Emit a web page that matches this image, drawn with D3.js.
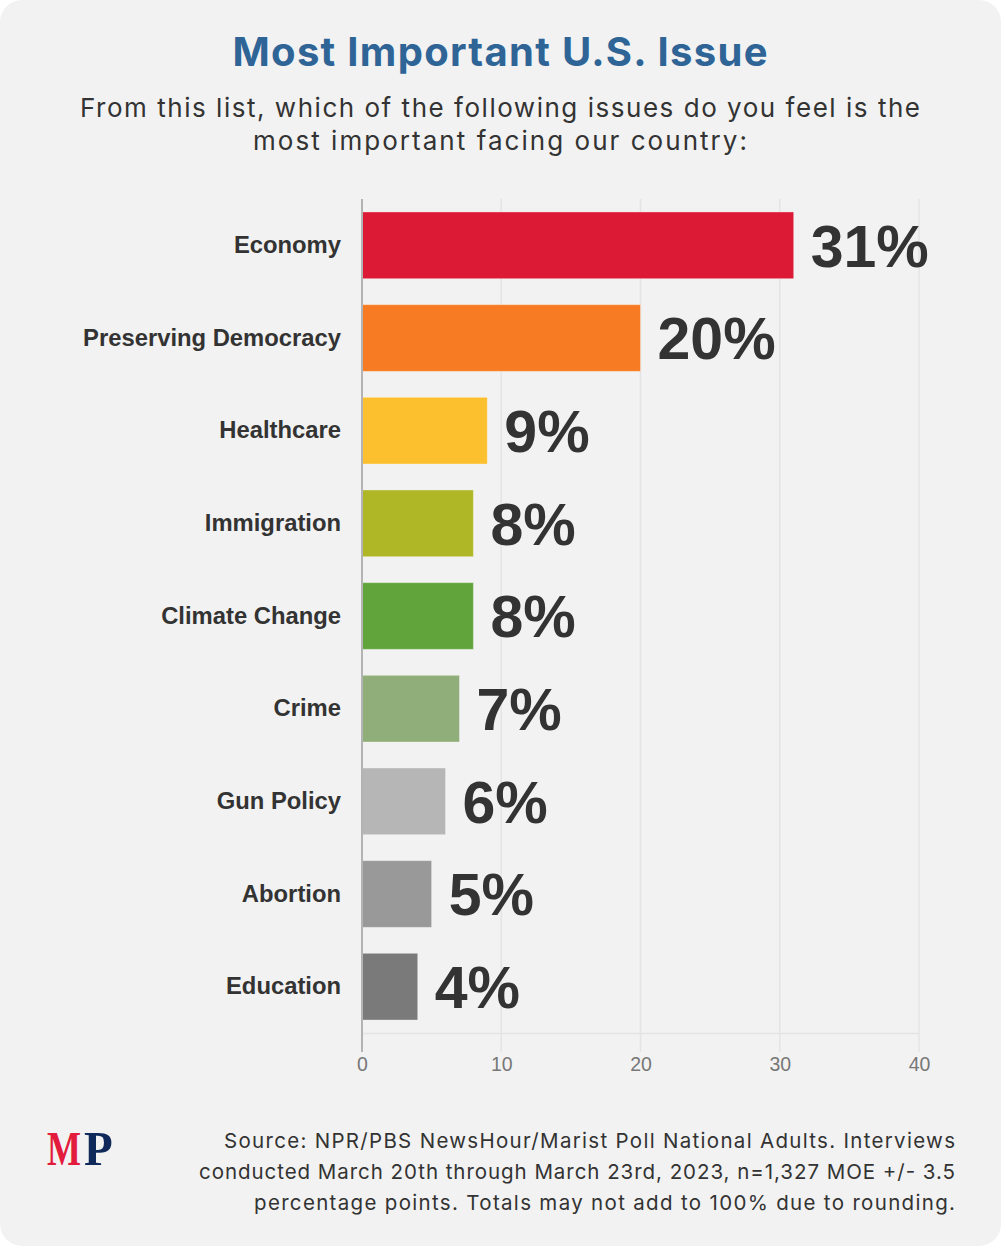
<!DOCTYPE html>
<html>
<head>
<meta charset="utf-8">
<script src="https://cdn.jsdelivr.net/npm/d3@7"></script>
<style>
  html, body { margin: 0; padding: 0; background: #ffffff; }
  svg { display: block; }
</style>
</head>
<body>
<svg id="chart" width="1006" height="1248"></svg>
<script>
const categories = ["Economy", "Preserving Democracy", "Healthcare", "Immigration", "Climate Change", "Crime", "Gun Policy", "Abortion", "Education"];
const values = [31, 20, 9, 8, 8, 7, 6, 5, 4];
const barColors = ["#dc1a35", "#f77b22", "#fcc02e", "#afb726", "#61a43c", "#90ae7a", "#b6b6b6", "#999999", "#7a7a7a"];
const xTicks = [0, 10, 20, 30, 40];
const titleText = "Most Important U.S. Issue";
const subtitleLines = ["From this list, which of the following issues do you feel is the", "most important facing our country:"];
const sourceLines = [
  "Source: NPR/PBS NewsHour/Marist Poll National Adults. Interviews",
  "conducted March 20th through March 23rd, 2023, n=1,327 MOE +/- 3.5",
  "percentage points. Totals may not add to 100% due to rounding."
];

const svg = d3.select("#chart");

// card background
svg.append("rect").attr("x", 0).attr("y", 0).attr("width", 1001).attr("height", 1246)
  .attr("rx", 22).attr("fill", "#f2f2f2");

// title
svg.append("text").attr("x", 500).attr("y", 66).attr("text-anchor", "middle")
  .attr("font-family", "Inter, 'Open Sans', sans-serif").attr("font-weight", 700)
  .attr("font-size", 40).attr("fill", "#2f6496")
  .attr("textLength", 535).attr("lengthAdjust", "spacing").text(titleText);

const subWidths = [840, 494];
svg.append("g").selectAll("text").data(subtitleLines).join("text")
  .attr("x", 500).attr("y", (d, i) => 117 + i * 33).attr("text-anchor", "middle")
  .attr("font-family", "Inter, 'Open Sans', sans-serif").attr("font-weight", 400)
  .attr("font-size", 26).attr("fill", "#333333")
  .attr("textLength", (d, i) => subWidths[i]).attr("lengthAdjust", "spacing").text(d => d);

const x = d3.scaleLinear().domain([0, 40]).range([362, 919]);
const y = d3.scaleBand().domain(categories).range([199, 1033]).paddingInner(0.28).paddingOuter(0.14);

// gridlines
const grid = svg.append("g");
grid.selectAll("line").data(xTicks.filter(t => t > 0)).join("line")
  .attr("x1", d => x(d)).attr("x2", d => x(d)).attr("y1", 199).attr("y2", 1052)
  .attr("stroke", "#e4e4e4").attr("stroke-width", 1.5);

// x axis baseline
svg.append("line").attr("x1", x(0)).attr("x2", x(40)).attr("y1", 1033.5).attr("y2", 1033.5)
  .attr("stroke", "#e4e4e4").attr("stroke-width", 1.5);

// x axis labels via d3 axis
const xAxis = svg.append("g").attr("transform", "translate(0,1052)")
  .call(d3.axisBottom(x).tickValues(xTicks).tickSize(0).tickPadding(5.5).tickFormat(d3.format("d")));
xAxis.select(".domain").remove();
xAxis.selectAll("text").attr("font-family", "'Liberation Sans', Arial, sans-serif")
  .attr("font-size", 19.5).attr("fill", "#777777");

// bars
svg.append("g").selectAll("rect").data(values).join("rect")
  .attr("x", x(0)).attr("y", (d, i) => y(categories[i]))
  .attr("width", d => x(d) - x(0)).attr("height", y.bandwidth())
  .attr("fill", (d, i) => barColors[i])
  .attr("stroke", "rgba(255,255,255,0.35)").attr("stroke-width", 1);

// y axis line
svg.append("line").attr("x1", x(0)).attr("x2", x(0)).attr("y1", 199).attr("y2", 1052)
  .attr("stroke", "#b3b3b3").attr("stroke-width", 2);

// category labels
const yAxis = svg.append("g").attr("transform", `translate(${x(0)},0)`)
  .call(d3.axisLeft(y).tickSize(0).tickPadding(21));
yAxis.select(".domain").remove();
yAxis.selectAll("text").attr("font-family", "'Liberation Sans', Arial, sans-serif")
  .attr("font-weight", 700).attr("font-size", 23.8).attr("fill", "#333333");

// value labels
svg.append("g").selectAll("text").data(values).join("text")
  .attr("x", d => x(d) + 17).attr("y", (d, i) => y(categories[i]) + y.bandwidth() / 2)
  .attr("dy", "0.36em")
  .attr("font-family", "'Liberation Sans', Arial, sans-serif").attr("font-weight", 700)
  .attr("font-size", 59).attr("fill", "#333333").text(d => d + "%");

// logo
svg.append("text").attr("transform", "translate(47,1165) scale(1,1.35)")
  .attr("font-family", "'Liberation Serif', 'DejaVu Serif', serif").attr("font-weight", 700)
  .attr("font-size", 36).attr("fill", "#e31b3c").text("M");
svg.append("text").attr("transform", "translate(84,1165) scale(1,1.05)")
  .attr("font-family", "'Liberation Serif', 'DejaVu Serif', serif").attr("font-weight", 700)
  .attr("font-size", 47).attr("fill", "#0f2a5a").text("P");

// source
const srcWidths = [731, 756, 701];
svg.append("g").selectAll("text").data(sourceLines).join("text")
  .attr("x", 955).attr("y", (d, i) => 1148 + i * 31).attr("text-anchor", "end")
  .attr("font-family", "Inter, 'Open Sans', sans-serif").attr("font-size", 20.5)
  .attr("fill", "#333333")
  .attr("textLength", (d, i) => srcWidths[i]).attr("lengthAdjust", "spacing").text(d => d);
</script>
</body>
</html>
